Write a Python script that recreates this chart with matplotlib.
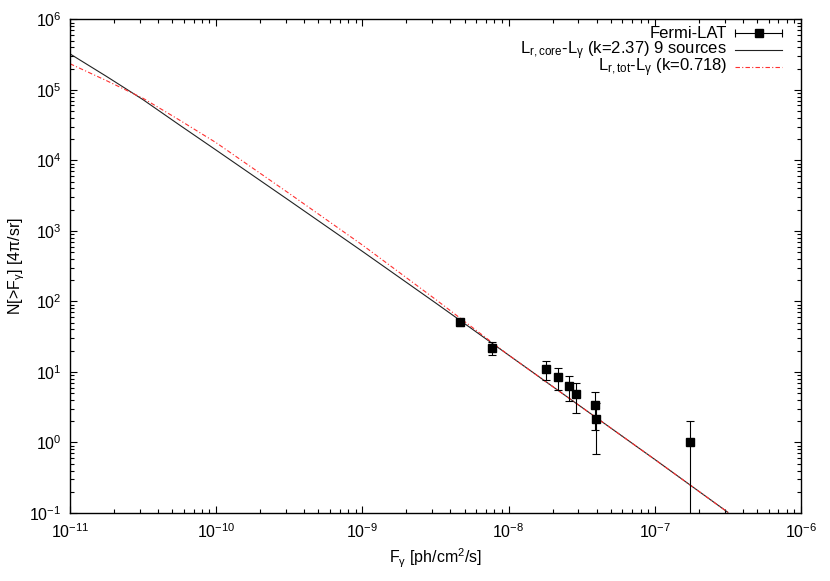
import numpy as np
import matplotlib
matplotlib.use("Agg")
import matplotlib.pyplot as plt
from matplotlib.lines import Line2D
from matplotlib.ticker import LogLocator, NullFormatter

plt.rcParams['font.family'] = ['Liberation Sans', 'DejaVu Sans']
plt.rcParams['mathtext.fontset'] = 'custom'
plt.rcParams['mathtext.rm'] = 'Liberation Sans'
plt.rcParams['mathtext.it'] = 'Liberation Sans'
plt.rcParams['mathtext.default'] = 'regular'

# Fermi-LAT data points
flux = [4.66e-9, 7.65e-9, 1.81e-8, 2.17e-8, 2.58e-8, 2.89e-8, 3.92e-8, 3.95e-8, 1.74e-7]
counts = [50.8, 22.0, 11.0, 8.35, 6.35, 4.8, 3.35, 2.14, 1.0]
err_lo = [6.0, 4.7, 3.4, 2.85, 2.45, 2.2, 1.85, 1.45, 0.9999]
err_hi = [6.0, 4.2, 3.2, 2.85, 2.45, 2.1, 1.85, 1.45, 0.99]

# Model curves (log10 F, log10 N)
core_logF = [-11.0, -10.75, -10.5, -10.25, -10.0, -9.5, -9.0, -8.5, -8.0, -7.5, -7.0, -6.5]
core_logN = [5.51, 5.19, 4.86, 4.50, 4.145, 3.43, 2.71, 1.98, 1.24, 0.50, -0.24, -0.99]
tot_logF = [-11.0, -10.75, -10.5, -10.25, -10.0, -9.5, -9.0, -8.5, -8.0, -7.5, -7.0, -6.5]
tot_logN = [5.37, 5.13, 4.88, 4.57, 4.25, 3.53, 2.80, 2.03, 1.24, 0.50, -0.24, -0.99]

legend_labels = ['Fermi-LAT',
                 'L$_{r,core}$-L$_γ$ (k=2.37) 9 sources',
                 'L$_{r,tot}$-L$_γ$ (k=0.718)']

BLACK = '#222222'
RED = '#ff3030'
DASH = (4, 2, 1, 2)

W, H = 830, 581
fig = plt.figure(figsize=(8.3, 5.81), dpi=100)
ax = fig.add_axes([0.0843, 0.117, 0.8807, 0.8498])
ax.set_xscale('log')
ax.set_yscale('log')

ax.errorbar(flux, counts, yerr=[err_lo, err_hi], fmt='s', color='black',
            ms=5.5, elinewidth=0.8, capsize=3, capthick=0.8, zorder=3)
ax.plot(10 ** np.array(core_logF), 10 ** np.array(core_logN), color=BLACK, lw=0.8, zorder=2)
ax.plot(10 ** np.array(tot_logF), 10 ** np.array(tot_logN), color=RED, lw=0.8,
        dashes=DASH, zorder=2)

ax.set_xlim(1e-11, 1e-6)
ax.set_ylim(0.1, 1e6)

ax.xaxis.set_major_locator(LogLocator(base=10, numticks=20))
ax.yaxis.set_major_locator(LogLocator(base=10, numticks=20))
ax.xaxis.set_minor_locator(LogLocator(base=10, subs=np.arange(2, 10), numticks=20))
ax.yaxis.set_minor_locator(LogLocator(base=10, subs=np.arange(2, 10), numticks=20))
ax.xaxis.set_minor_formatter(NullFormatter())
ax.yaxis.set_minor_formatter(NullFormatter())
ax.tick_params(which='both', direction='in', top=True, right=True, labelsize=11.5)
ax.tick_params(which='major', length=5, width=0.8)
ax.tick_params(which='minor', length=2.6, width=0.8)
ax.tick_params(axis='x', which='major', pad=7)
ax.tick_params(axis='y', which='major', pad=6)
for s in ax.spines.values():
    s.set_linewidth(1.0)

ax.set_xlabel('F$_γ$ [ph/cm$^2$/s]', fontsize=11.5, labelpad=4)
ax.set_ylabel('N[>F$_γ$] [4π/sr]', fontsize=11.5, labelpad=2)

# Legend drawn gnuplot-style: right-justified text, sample to the right
def fx(px):
    return px / W

def fy(py):
    return 1 - py / H

row_line_y = [33.3, 50.0, 66.7]
text_right = 727
s0, s1 = 735, 782
for lab, ly in zip(legend_labels, row_line_y):
    fig.text(fx(text_right), fy(ly + 4.3), lab, ha='right', va='baseline', fontsize=12)

tr = fig.transFigure
fig.add_artist(Line2D([fx(s0), fx(s1)], [fy(row_line_y[0])] * 2, color='black', lw=0.8, transform=tr))
fig.add_artist(Line2D([fx(s0), fx(s1)], [fy(row_line_y[0])] * 2, color='black', ls='none',
                      marker='|', ms=6, mew=0.8, transform=tr))
fig.add_artist(Line2D([fx((s0 + s1) / 2)], [fy(row_line_y[0])], color='black', ls='none',
                      marker='s', ms=5.5, transform=tr))
fig.add_artist(Line2D([fx(s0), fx(s1)], [fy(row_line_y[1])] * 2, color=BLACK, lw=0.8, transform=tr))
fig.add_artist(Line2D([fx(s0), fx(s1)], [fy(row_line_y[2])] * 2, color=RED, lw=0.8,
                      dashes=DASH, transform=tr))

fig.savefig('out.png', dpi=100)
